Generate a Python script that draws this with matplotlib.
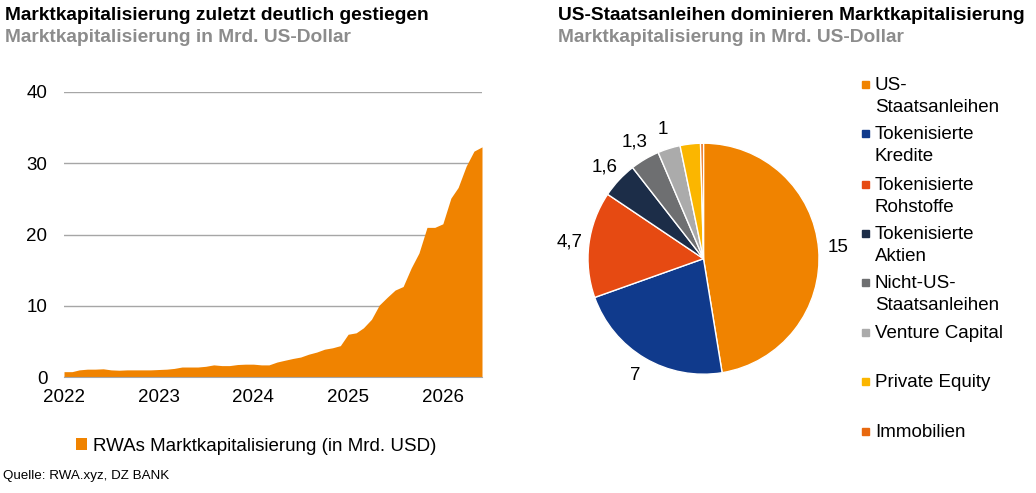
import matplotlib
matplotlib.use("Agg")
import matplotlib.pyplot as plt
import matplotlib.patches as mpatches
import numpy as np
import pandas as pd

plt.rcParams['font.family'] = ['Liberation Sans', 'DejaVu Sans']

# monthly market cap of RWAs (bn USD), Jan 2022 - Jun 2026
dates = pd.date_range("2022-01-01", periods=54, freq="MS")
rwa_cap = [0.75, 0.75, 1.0, 1.1, 1.1, 1.15, 1.0, 0.95, 1.0, 1.0, 1.0, 1.0,
           1.05, 1.1, 1.2, 1.4, 1.4, 1.4, 1.5, 1.7, 1.6, 1.6, 1.75, 1.8,
           1.8, 1.7, 1.7, 2.1, 2.35, 2.6, 2.8, 3.2, 3.5, 3.9, 4.1, 4.4,
           6.0, 6.2, 6.9, 8.1, 10.1, 11.2, 12.2, 12.7, 15.3, 17.4, 21.0, 21.0,
           21.5, 25.1, 26.6, 29.6, 31.7, 32.3]
year_ticks = ["2022", "2023", "2024", "2025", "2026"]

# segments of the pie
segments = ["US-\nStaatsanleihen", "Tokenisierte\nKredite", "Tokenisierte\nRohstoffe",
            "Tokenisierte\nAktien", "Nicht-US-\nStaatsanleihen", "Venture Capital",
            "Private Equity", "Immobilien"]
seg_values = [15, 7, 4.7, 1.6, 1.3, 1.0, 0.9, 0.13]
seg_labels = ["15", "7", "4,7", "1,6", "1,3", "1", "", ""]
seg_colors = ["#F08300", "#103A8C", "#E64A12", "#1C2D48", "#6E6F71", "#ABABAB", "#FBB600", "#E8690F"]

orange = "#F08300"
grey_sub = "#8C8C8C"
fs = 13.5

W, H = 1036, 493
fig = plt.figure(figsize=(W / 100, H / 100), dpi=100)

def fx(px): return px / W
def fy(py): return 1 - py / H

# ---- left: area chart
ax = fig.add_axes([fx(64), fy(377), fx(482) - fx(64), fy(92) - fy(377)])
x = dates.year + (dates.dayofyear - 1) / 365.0
ax.fill_between(x, rwa_cap, 0, color=orange, lw=0, label="RWAs Marktkapitalisierung (in Mrd. USD)")
ax.set_xlim(x[0], x[-1])
ax.set_ylim(0, 40)
ax.set_yticks([0, 10, 20, 30, 40])
ax.set_xticks([2022, 2023, 2024, 2025, 2026])
ax.set_xticklabels(year_ticks)
ax.grid(axis="y", color="#A6A6A6", lw=1)
ax.set_axisbelow(True)
for s in ["top", "right", "left"]:
    ax.spines[s].set_visible(False)
ax.spines["bottom"].set_color("#A6A6A6")
ax.tick_params(length=0, labelsize=fs)
ax.tick_params(axis="y", pad=12)
ax.tick_params(axis="x", pad=9)
ax.legend(loc="upper center", bbox_to_anchor=(0.46, -0.155), frameon=False, fontsize=fs,
          handlelength=0.6, handleheight=0.6, handletextpad=0.3)

fig.text(fx(5), fy(15), "Marktkapitalisierung zuletzt deutlich gestiegen", fontsize=13.8,
         fontweight="bold", va="center")
fig.text(fx(5), fy(38), "Marktkapitalisierung in Mrd. US-Dollar", fontsize=13.8,
         fontweight="bold", color=grey_sub, va="center")
fig.text(fx(3), fy(476), "Quelle: RWA.xyz, DZ BANK", fontsize=9.6, va="center")

# ---- right: pie
r = 115.5
cx, cy = 703.5, 258.7
pax = fig.add_axes([fx(cx - r), fy(cy + r), 2 * r / W, 2 * r / H])
wedges, _ = pax.pie(seg_values, colors=seg_colors, startangle=90, counterclock=False,
                    wedgeprops=dict(edgecolor="white", linewidth=1))
pax.set_xlim(-1, 1)
pax.set_ylim(-1, 1)
for w, lab in zip(wedges, seg_labels):
    if not lab:
        continue
    a = np.deg2rad((w.theta1 + w.theta2) / 2)
    pax.text(1.17 * np.cos(a), 1.17 * np.sin(a), lab, ha="center", va="center", fontsize=fs)

fig.text(fx(558), fy(15), "US-Staatsanleihen dominieren Marktkapitalisierung", fontsize=13.8,
         fontweight="bold", va="center")
fig.text(fx(558), fy(38), "Marktkapitalisierung in Mrd. US-Dollar", fontsize=13.8,
         fontweight="bold", color=grey_sub, va="center")

# legend of the pie, drawn by hand
row_y = [84, 133, 184, 233, 282, 332, 381, 431]
for name, col, yy in zip(segments, seg_colors, row_y):
    fig.patches.append(mpatches.Rectangle((fx(862), fy(yy + 4)), 7 / W, 7 / H, color=col,
                                          transform=fig.transFigure))
    fig.text(fx(875), fy(yy - 7), name, fontsize=fs, va="top", linespacing=1.38)

fig.savefig("out.png", dpi=100)
